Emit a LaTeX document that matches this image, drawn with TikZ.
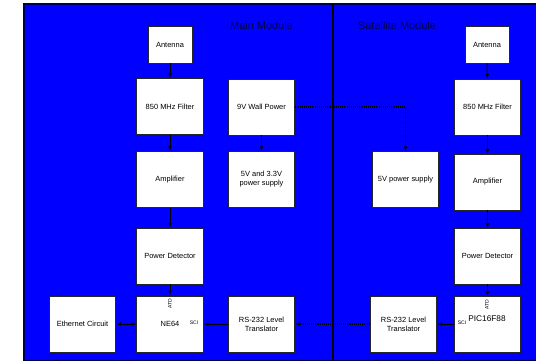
\documentclass[tikz,border=0pt]{standalone}
\usepackage{fontspec}
\setmainfont{Liberation Sans}
\usetikzlibrary{arrows.meta}
\definecolor{bgblue}{HTML}{0000FF}
\definecolor{navy}{HTML}{000050}
\begin{document}
\begin{tikzpicture}[x=0.75pt,y=-0.75pt,
  box/.style={draw=black!85, fill=white, line width=0.7pt, inner sep=0pt, align=center,
     minimum width=50pt, minimum height=42pt, font=\fontsize{5.6}{6.8}\selectfont},
  antbox/.style={box, minimum width=33pt, minimum height=27.75pt},
  arr/.style={-{Latex[length=3.5pt,width=3pt]}, line width=0.7pt, black},
  darr/.style={arr, dash pattern=on 0.8pt off 0.8pt, line width=0.8pt},
  tiny/.style={font=\fontsize{3.8}{4}\selectfont},
  title/.style={font=\fontsize{8.2}{9}\selectfont, text=navy}]
\useasboundingbox (0,0) rectangle (536,364);
% background
\fill[bgblue] (23,3) rectangle (536,361);
\draw[navy, line width=1.2pt] (536,3.7) -- (23.7,3.7) -- (23.7,360.3) -- (536,360.3);
\draw[black, line width=1.2pt] (333,3.7) -- (333,360.3);
\node[title] (tm) at (261.5,26) {Main Module};
\node[title] (ts) at (397,26) {Satellite Module};
% main module
\node[antbox] (antM) at (170,44.5) {Antenna};
\node[box] (filtM) at (170,106.5) {850 MHz Filter};
\node[box] (ampM) at (170,179.5) {Amplifier};
\node[box] (pdM) at (170,256) {Power Detector};
\node[box] (ne) at (170,324) {NE64};
\node[box] (eth) at (82.5,324) {Ethernet Circuit};
\node[box] (wall) at (261.5,107) {9V Wall Power};
\node[box] (v53) at (261.5,179.5) {5V and 3.3V\\power supply};
\node[box] (rsM) at (261.5,324) {RS-232 Level\\Translator};
\node[tiny, rotate=90] (atdM) at (170,304) {ATD};
\node[tiny] (sciM) at (194,323) {SCI};
% satellite module
\node[antbox] (antS) at (487,44.5) {Antenna};
\node[box] (filtS) at (487.5,107) {850 MHz Filter};
\node[box] (ampS) at (487.5,182) {Amplifier};
\node[box] (pdS) at (487.5,256) {Power Detector};
\node[box] (pic) at (487.5,324) {};
\node[font=\fontsize{6.2}{7}\selectfont] (pict) at (487,319) {PIC16F88};
\node[box] (v5S) at (405.5,179.5) {5V power supply};
\node[box] (rsS) at (403.5,324) {RS-232 Level\\Translator};
\node[tiny, rotate=90] (atdS) at (487,305) {ATD};
\node[tiny] (sciS) at (462,323) {SCI};
% connectors
\draw[arr] (antM) -- (filtM);
\draw[arr] (filtM) -- (ampM);
\draw[arr] (ampM) -- (pdM);
\draw[arr] (pdM) -- (ne);
\draw[arr] (wall) -- (v53);
\draw[{Latex[length=3.5pt,width=3pt]}-{Latex[length=3.5pt,width=3pt]}, line width=0.7pt] (eth) -- (ne);
\draw[arr] (rsM) -- (ne);
\draw[arr] (antS) -- (filtS);
\draw[arr] (filtS) -- (ampS);
\draw[arr] (ampS) -- (pdS);
\draw[arr] (pdS) -- (pic);
\draw[arr] (pic) -- (rsS);
\draw[darr] (rsS) -- (rsM);
\draw[darr] (wall.east) -| (v5S.north);
\end{tikzpicture}
\end{document}
